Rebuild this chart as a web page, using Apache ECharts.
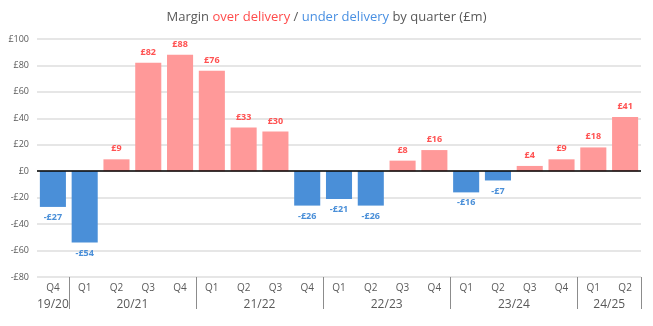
<!DOCTYPE html>
<html>
<head>
<meta charset="utf-8">
<script src="https://cdn.jsdelivr.net/npm/echarts@6/dist/echarts.min.js"></script>
<style>
  html, body { margin: 0; padding: 0; background: #fff; }
  #chart { width: 653px; height: 326px; }
</style>
</head>
<body>
<div id="chart"></div>
<script>
// Quarterly margin (£m): positive = over delivery, negative = under delivery
const quarters = ['Q4', 'Q1', 'Q2', 'Q3', 'Q4', 'Q1', 'Q2', 'Q3', 'Q4', 'Q1', 'Q2', 'Q3', 'Q4', 'Q1', 'Q2', 'Q3', 'Q4', 'Q1', 'Q2'];
const margins = [-27, -54, 9, 82, 88, 76, 33, 30, -26, -21, -26, 8, 16, -16, -7, 4, 9, 18, 41];
// Financial years and the number of quarters in each
const years = ['19/20', '20/21', '21/22', '22/23', '23/24', '24/25'];
const yearQuarterCounts = [1, 4, 4, 4, 4, 2];

const overColor = '#FF9999';
const underColor = '#4A8FD8';
const overText = '#FF5252';
const underText = '#4A8FD8';
const greyText = '#595959';

// Year label positions (group centres) and separators (group boundaries)
const yearCentres = {};
const boundaries = [];
let start = 0;
yearQuarterCounts.forEach((n, i) => {
  yearCentres[(start + n / 2).toFixed(1)] = years[i];
  start += n;
  if (start < quarters.length) boundaries.push(start);
});

const money = v => (v < 0 ? '-£' : '£') + Math.abs(v);

const chart = echarts.init(document.getElementById('chart'), null, { renderer: 'canvas' });
chart.setOption({
  animation: false,
  title: {
    left: 'center',
    top: 6,
    text: '{g|Margin }{r|over delivery}{g| / }{b|under delivery}{g| by quarter (£m)}',
    textStyle: {
      fontWeight: 'normal',
      rich: {
        g: { fontFamily: 'Open Sans', fontSize: 13, fontWeight: 'normal', color: greyText },
        r: { fontFamily: 'Open Sans', fontSize: 13, fontWeight: 'normal', color: '#FF4B4B' },
        b: { fontFamily: 'Open Sans', fontSize: 13, fontWeight: 'normal', color: '#4A90E2' }
      }
    }
  },
  grid: { left: 37, right: 12, top: 39, bottom: 49 },
  xAxis: [
    {
      type: 'category',
      data: quarters,
      position: 'bottom',
      axisLine: { show: false, onZero: false },
      axisTick: {
        show: true,
        length: 32,
        interval: (i) => boundaries.includes(i),
        lineStyle: { color: '#8c8c8c', width: 1 }
      },
      axisLabel: { color: greyText, fontFamily: 'Open Sans', fontSize: 10, margin: 6, interval: 0 }
    },
    {
      type: 'value',
      min: 0,
      max: quarters.length,
      interval: 0.5,
      position: 'bottom',
      offset: 20,
      axisLine: { show: false },
      axisTick: { show: false },
      splitLine: { show: false },
      axisLabel: {
        color: greyText, fontFamily: 'Open Sans', fontSize: 12, margin: 2,
        showMinLabel: false, showMaxLabel: false,
        formatter: v => yearCentres[v.toFixed(1)] || ''
      }
    }
  ],
  yAxis: {
    type: 'value',
    min: -80,
    max: 100,
    interval: 20,
    axisLine: { show: false },
    axisTick: { show: false },
    splitLine: { lineStyle: { color: '#dedede', width: 1.5 } },
    axisLabel: { color: greyText, fontFamily: 'Open Sans', fontSize: 9, margin: 8, formatter: money }
  },
  series: [{
    type: 'bar',
    xAxisIndex: 0,
    data: margins.map(v => ({
      value: v,
      itemStyle: { color: v >= 0 ? overColor : underColor },
      label: {
        position: v >= 0 ? 'top' : 'bottom',
        color: v >= 0 ? overText : underText
      }
    })),
    barCategoryGap: '18%',
    label: {
      show: true,
      fontFamily: 'Open Sans',
      fontSize: 9,
      fontWeight: 'bold',
      distance: 6,
      formatter: p => money(p.value)
    },
    markLine: {
      silent: true,
      symbol: 'none',
      label: { show: false },
      lineStyle: { color: '#000', width: 1.5, type: 'solid' },
      data: [{ yAxis: 0 }]
    }
  }]
});
</script>
</body>
</html>
